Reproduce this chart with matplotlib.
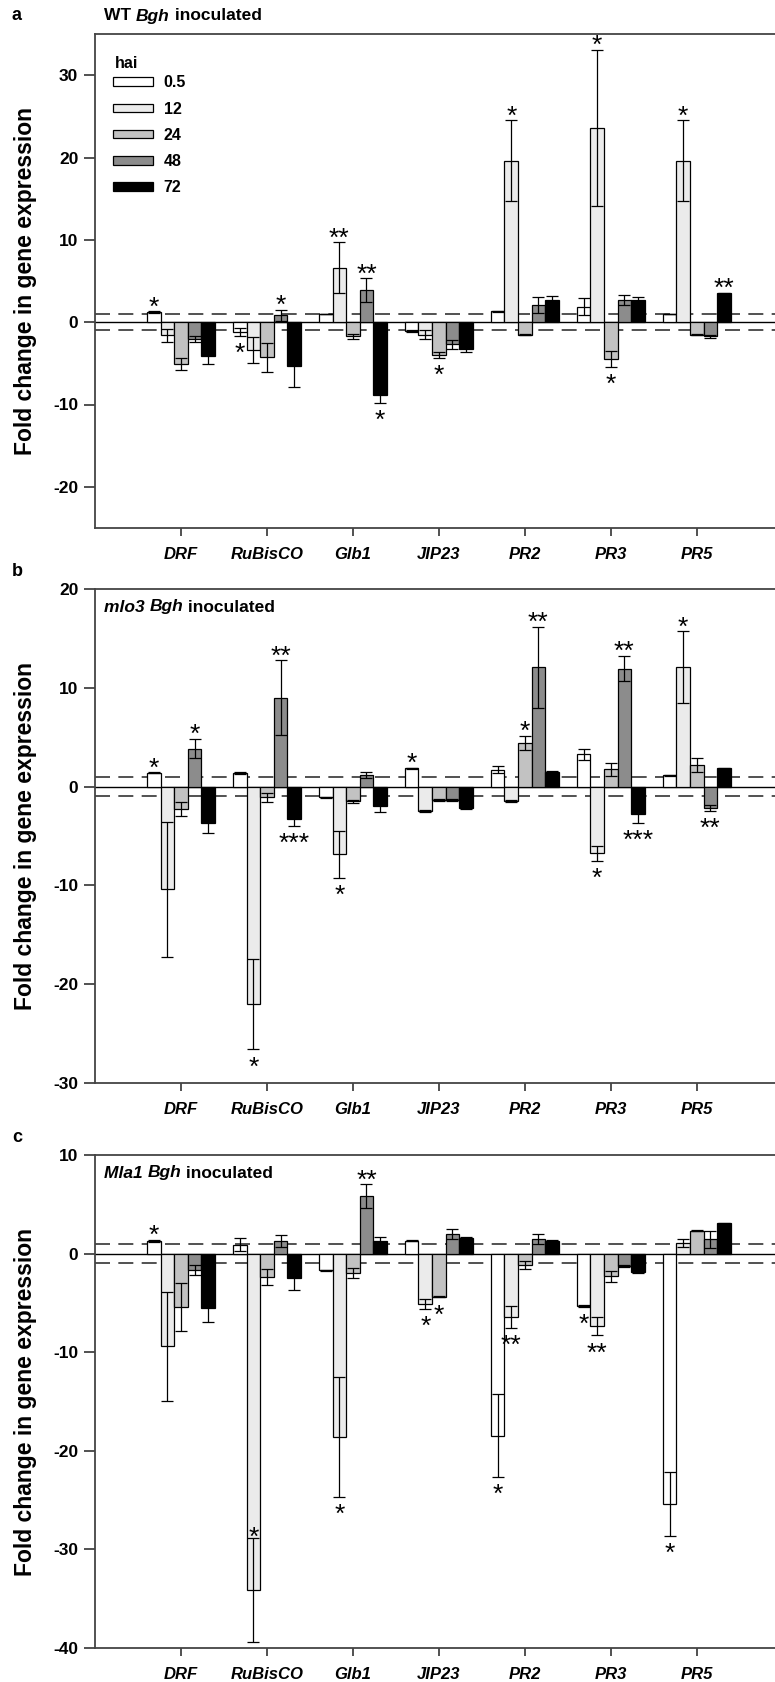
import numpy as np
import matplotlib
matplotlib.use("Agg")
import matplotlib.pyplot as plt

plt.rcParams['font.family'] = ['Liberation Sans', 'DejaVu Sans']
plt.rcParams['axes.unicode_minus'] = False

genes = ['DRF', 'RuBisCO', 'Glb1', 'JIP23', 'PR2', 'PR3', 'PR5']
hai = ['0.5', '12', '24', '48', '72']
colors = ['#ffffff', '#ebebeb', '#c2c2c2', '#8c8c8c', '#000000']

# mean fold change, one row per gene, columns = hai
wt_mean = [[1.2, -1.6, -5.1, -2.05, -4.1],
           [-1.2, -3.4, -4.25, 0.85, -5.35],
           [1.0, 6.6, -1.7, 3.9, -8.8],
           [-1.1, -1.5, -4.0, -2.7, -3.3],
           [1.3, 19.6, -1.5, 2.1, 2.75],
           [1.9, 23.6, -4.5, 2.7, 2.7],
           [1.0, 19.6, -1.5, -1.7, 3.5]]
wt_err = [[0.1, 0.8, 0.7, 0.4, 1.0],
          [0.5, 1.6, 1.75, 0.65, 2.5],
          [0.05, 3.1, 0.3, 1.45, 1.0],
          [0.1, 0.6, 0.35, 0.55, 0.35],
          [0.1, 4.9, 0.1, 1.0, 0.4],
          [1.05, 9.5, 0.95, 0.6, 0.4],
          [0.05, 4.9, 0.1, 0.2, 0.05]]
wt_sig = [['*', '', '', '', ''],
          ['*', '', '', '*', ''],
          ['', '**', '', '**', '*'],
          ['', '', '*', '', ''],
          ['', '*', '', '', ''],
          ['', '*', '*', '', ''],
          ['', '*', '', '', '**']]

mlo_mean = [[1.4, -10.4, -2.3, 3.85, -3.7],
            [1.4, -22.0, -1.1, 9.0, -3.3],
            [-1.1, -6.85, -1.5, 1.15, -2.0],
            [1.85, -2.5, -1.4, -1.4, -2.2],
            [1.7, -1.5, 4.45, 12.1, 1.5],
            [3.25, -6.75, 1.75, 11.95, -2.8],
            [1.15, 12.1, 2.2, -2.15, 1.85]]
mlo_err = [[0.05, 6.8, 0.7, 1.0, 1.0],
           [0.1, 4.6, 0.45, 3.8, 0.65],
           [0.05, 2.4, 0.15, 0.3, 0.6],
           [0.05, 0.1, 0.1, 0.1, 0.1],
           [0.35, 0.1, 0.7, 4.1, 0.05],
           [0.6, 0.75, 0.65, 1.3, 0.9],
           [0.05, 3.6, 0.72, 0.3, 0.05]]
mlo_sig = [['*', '', '', '*', ''],
           ['', '*', '', '**', '***'],
           ['', '*', '', '', ''],
           ['*', '', '', '', ''],
           ['', '', '*', '**', ''],
           ['', '*', '', '**', '***'],
           ['', '*', '', '**', '']]

mla_mean = [[1.3, -9.4, -5.4, -1.7, -5.5],
            [0.9, -34.1, -2.4, 1.3, -2.5],
            [-1.7, -18.6, -2.0, 5.85, 1.3],
            [1.3, -5.1, -4.4, 1.95, 1.6],
            [-18.45, -6.4, -1.2, 1.5, 1.3],
            [-5.3, -7.35, -2.3, -1.3, -1.9],
            [-25.4, 1.1, 2.3, 1.45, 3.1]]
mla_err = [[0.1, 5.55, 2.4, 0.5, 1.4],
           [0.65, 5.3, 0.8, 0.6, 1.2],
           [0.05, 6.1, 0.5, 1.2, 0.35],
           [0.05, 0.5, 0.05, 0.5, 0.05],
           [4.2, 1.1, 0.4, 0.5, 0.05],
           [0.1, 0.95, 0.55, 0.1, 0.05],
           [3.2, 0.4, 0.05, 0.85, 0.05]]
mla_sig = [['*', '', '', '', ''],
           ['', '*', '', '', ''],
           ['', '*', '', '**', ''],
           ['', '*', '*', '', ''],
           ['*', '**', '', '', ''],
           ['*', '**', '', '', ''],
           ['*', '', '', '', '']]

W, H = 775, 1682
fig = plt.figure(figsize=(W / 100, H / 100), dpi=100)

ylabel = 'Fold change in gene expression'
panels = [
    # letter, title pieces, data, ylim, ticks, axes top/bottom px, title inside axes
    ('a', 'WT ', 'Bgh', ' inoculated', wt_mean, wt_err, wt_sig, (-25, 35), [-20, -10, 0, 10, 20, 30], 34, 528, False),
    ('b', 'mlo3 ', 'Bgh', ' inoculated', mlo_mean, mlo_err, mlo_sig, (-30, 20), [-30, -20, -10, 0, 10, 20], 589, 1083, True),
    ('c', 'Mla1 ', 'Bgh', ' inoculated', mla_mean, mla_err, mla_sig, (-40, 10), [-40, -30, -20, -10, 0, 10], 1155, 1648, True),
]

bw = 0.158
x = np.arange(1, len(genes) + 1)
star_fs = 19

for letter, t1, t2, t3, mean, err, sig, ylim, yticks, top, bot, inside in panels:
    mean = np.array(mean)
    err = np.array(err)
    ax = fig.add_axes([95 / W, 1 - bot / H, 680 / W, (bot - top) / H])
    for j in range(len(hai)):
        ax.bar(x + (j - 2) * bw, mean[:, j], bw, yerr=err[:, j], color=colors[j],
               edgecolor='black', linewidth=0.9, label=hai[j], zorder=2,
               error_kw=dict(ecolor='black', elinewidth=0.9, capsize=4.3, capthick=0.9))
        for i in range(len(genes)):
            s = sig[i][j]
            if not s:
                continue
            m, e = mean[i, j], err[i, j]
            xs = x[i] + (j - 2) * bw
            if m >= 0:
                ax.annotate(s, (xs, m + e), xytext=(0, -2.4), textcoords='offset points',
                            ha='center', va='baseline', fontsize=star_fs, zorder=5)
            elif m - e < ylim[0] + 2:
                # no room below the bar, star goes inside
                ax.annotate(s, (xs, m + e), xytext=(0, -5), textcoords='offset points',
                            ha='center', va='baseline', fontsize=star_fs, zorder=5)
            else:
                ax.annotate(s, (xs, m - e), xytext=(0, -18), textcoords='offset points',
                            ha='center', va='baseline', fontsize=star_fs, zorder=5)
    ax.axhline(0, color='black', lw=1.0, zorder=1)
    for yy in (1, -1):
        ax.axhline(yy, color='#333333', lw=1.2, dashes=(9, 5), zorder=1)
    ax.set_xlim(0, 7.91)
    ax.set_ylim(*ylim)
    ax.set_yticks(yticks)
    ax.set_xticks(x)
    ax.set_xticklabels(genes, fontsize=12, fontweight='bold', style='italic')
    for lab in ax.get_yticklabels():
        lab.set_fontweight('bold')
        lab.set_fontsize(12.5)
    ax.tick_params(axis='y', direction='out', length=8, width=1.2, color='#333333', pad=4)
    ax.tick_params(axis='x', direction='out', length=6, width=1.2, color='#333333', pad=8)
    ax.spines['right'].set_visible(False)
    for sp in ('left', 'top', 'bottom'):
        ax.spines[sp].set_linewidth(1.3)
        ax.spines[sp].set_color('#444444')
    ax.set_ylabel(ylabel, fontsize=16.5, fontweight='bold')
    ax.yaxis.set_label_coords(-58 / 680, 0.5)

    # panel letter and title
    fig.text(12 / W, 1 - (top - 18) / H, letter, fontsize=13, fontweight='bold',
             va='center', ha='left')
    ty = 16 if not inside else top + 18
    t_a = fig.text(104 / W, 1 - ty / H, t1, fontsize=12.5, fontweight='bold', va='center',
                   style='normal' if letter == 'a' else 'italic')
    fig.canvas.draw()
    bb = t_a.get_window_extent()
    t_b = fig.text(bb.x1 / W, 1 - ty / H, t2, fontsize=12.5, fontweight='bold',
                   style='italic', va='center')
    fig.canvas.draw()
    bb = t_b.get_window_extent()
    fig.text(bb.x1 / W, 1 - ty / H, t3, fontsize=12.5, fontweight='bold', va='center')

    if letter == 'a':
        ax.text(20 / 680, 1 - 30 / 494, 'hai', transform=ax.transAxes, fontsize=11.5,
                fontweight='bold', va='center', ha='left')
        ax.legend(loc='upper left', bbox_to_anchor=(4 / 680, 1 - 27 / 494),
                  frameon=False, handlelength=2.5, handleheight=0.45,
                  labelspacing=0.7, handletextpad=0.65,
                  prop=dict(weight='bold', size=11.5))

fig.savefig('out.png', dpi=100)
